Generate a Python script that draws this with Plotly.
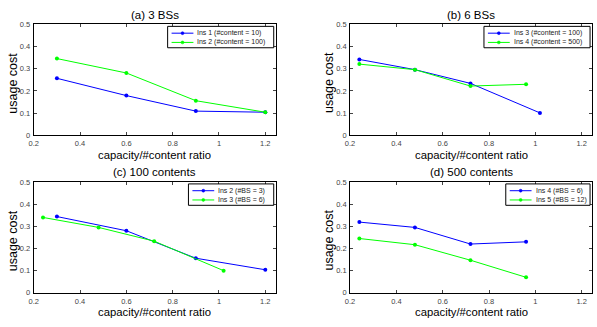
import plotly.graph_objects as go

# ---- data ----
titles = ["(a) 3 BSs", "(b) 6 BSs", "(c) 100 contents", "(d) 500 contents"]

a_x1 = [0.3, 0.6, 0.9, 1.2]
a_y1 = [0.257, 0.179, 0.109, 0.104]
a_x2 = [0.3, 0.6, 0.9, 1.2]
a_y2 = [0.346, 0.281, 0.156, 0.104]
a_names = ["Ins 1 (#content = 10)", "Ins 2 (#content = 100)"]

b_x1 = [0.24, 0.48, 0.72, 1.02]
b_y1 = [0.342, 0.296, 0.234, 0.101]
b_x2 = [0.24, 0.48, 0.72, 0.96]
b_y2 = [0.321, 0.296, 0.222, 0.230]
b_names = ["Ins 3 (#content = 100)", "Ins 4 (#content = 500)"]

c_x1 = [0.3, 0.6, 0.9, 1.2]
c_y1 = [0.344, 0.280, 0.156, 0.104]
c_x2 = [0.24, 0.48, 0.72, 1.02]
c_y2 = [0.340, 0.295, 0.233, 0.100]
c_names = ["Ins 2 (#BS = 3)", "Ins 3 (#BS = 6)"]

d_x1 = [0.24, 0.48, 0.72, 0.96]
d_y1 = [0.319, 0.295, 0.220, 0.230]
d_x2 = [0.24, 0.48, 0.72, 0.96]
d_y2 = [0.245, 0.217, 0.147, 0.070]
d_names = ["Ins 4 (#BS = 6)", "Ins 5 (#BS = 12)"]

x_ticks = [0.2, 0.4, 0.6, 0.8, 1.0, 1.2]
x_tick_text = ["0.2", "0.4", "0.6", "0.8", "1", "1.2"]
y_ticks = [0, 0.1, 0.2, 0.3, 0.4, 0.5]
y_tick_text = ["0", "0.1", "0.2", "0.3", "0.4", "0.5"]
x_label = "capacity/#content ratio"
y_label = "usage cost"

panels = [
    (a_x1, a_y1, a_x2, a_y2, a_names),
    (b_x1, b_y1, b_x2, b_y2, b_names),
    (c_x1, c_y1, c_x2, c_y2, c_names),
    (d_x1, d_y1, d_x2, d_y2, d_names),
]

# ---- layout geometry (pixels) ----
W, H = 597, 327
FONT = "Liberation Sans, Arial, Helvetica, sans-serif"
px_x = [(29, 273), (348, 592)]      # axes left/right per column
px_y = [(21, 135), (183, 297)]      # axes top/bottom per row
legend_w = [107, 107, 86, 85]       # legend box widths per panel
BLUE = "rgb(0,0,255)"
GREEN = "rgb(0,255,0)"


def fx(p):
    return p / W


def fy(p):
    return 1 - p / H


fig = go.Figure()
layout = dict(
    width=W, height=H, margin=dict(l=0, r=0, t=0, b=0),
    paper_bgcolor="white", plot_bgcolor="white",
    font=dict(family=FONT, color="black"),
    showlegend=False,
)
annotations = []
shapes = []

for i, (x1, y1, x2, y2, names) in enumerate(panels):
    row, col = divmod(i, 2)
    sfx = "" if i == 0 else str(i + 1)
    L, R = px_x[col]
    T, B = px_y[row]
    for xs, ys, nm, colr in ((x1, y1, names[0], BLUE), (x2, y2, names[1], GREEN)):
        fig.add_trace(go.Scatter(
            x=xs, y=ys, name=nm, mode="lines+markers",
            line=dict(color=colr, width=1),
            marker=dict(color=colr, size=4, symbol="circle"),
            xaxis="x" + sfx, yaxis="y" + sfx,
        ))
    layout["xaxis" + sfx] = dict(
        domain=[fx(L), fx(R)], anchor="y" + sfx, range=[0.2, 1.245],
        tickvals=x_ticks, ticktext=x_tick_text, ticks="inside", ticklen=3,
        showline=True, linecolor="black", linewidth=1, mirror="ticks",
        showgrid=False, zeroline=False, tickfont=dict(size=7.5, color="#444"),
        ticklabelstandoff=1,
    )
    layout["yaxis" + sfx] = dict(
        domain=[fy(B), fy(T)], anchor="x" + sfx, range=[0, 0.5],
        tickvals=y_ticks, ticktext=y_tick_text, ticks="inside", ticklen=3,
        showline=True, linecolor="black", linewidth=1, mirror="ticks",
        showgrid=False, zeroline=False, tickfont=dict(size=7.5, color="#444"),
        ticklabelstandoff=1,
    )
    cx = fx((L + R) / 2)
    annotations.append(dict(text=titles[i], x=cx, y=fy(T - 10), xref="paper", yref="paper",
                            xanchor="center", yanchor="middle", showarrow=False,
                            font=dict(size=11.5)))
    annotations.append(dict(text=x_label, x=cx, y=fy(B + 20), xref="paper", yref="paper",
                            xanchor="center", yanchor="middle", showarrow=False,
                            font=dict(size=11.3)))
    annotations.append(dict(text=y_label, x=fx(L - 21), y=fy((T + B) / 2 + 3),
                            xref="paper", yref="paper", xanchor="center", yanchor="middle",
                            textangle=-90, showarrow=False, font=dict(size=12.5)))

    # custom compact legend (MATLAB style)
    bx1 = R - 2
    bx0 = bx1 - legend_w[i]
    by0 = T + 2
    by1 = T + 24
    shapes.append(dict(type="rect", xref="paper", yref="paper",
                       x0=fx(bx0), x1=fx(bx1), y0=fy(by1), y1=fy(by0),
                       line=dict(color="black", width=1), fillcolor="white", layer="above"))
    for k, (nm, colr) in enumerate(((names[0], BLUE), (names[1], GREEN))):
        ry = by0 + 7 + 9.5 * k
        shapes.append(dict(type="line", xref="paper", yref="paper",
                           x0=fx(bx0 + 4), x1=fx(bx0 + 26), y0=fy(ry), y1=fy(ry),
                           line=dict(color=colr, width=1), layer="above"))
        shapes.append(dict(type="circle", xref="paper", yref="paper",
                           x0=fx(bx0 + 13.5), x1=fx(bx0 + 16.5), y0=fy(ry + 1.5), y1=fy(ry - 1.5),
                           line=dict(color=colr, width=0.5), fillcolor=colr, layer="above"))
        annotations.append(dict(text=nm, x=fx(bx0 + 28), y=fy(ry), xref="paper", yref="paper",
                                xanchor="left", yanchor="middle", showarrow=False,
                                font=dict(size=7, color="#222")))

layout["annotations"] = annotations
layout["shapes"] = shapes
fig.update_layout(**layout)
fig.write_html("out.html")
